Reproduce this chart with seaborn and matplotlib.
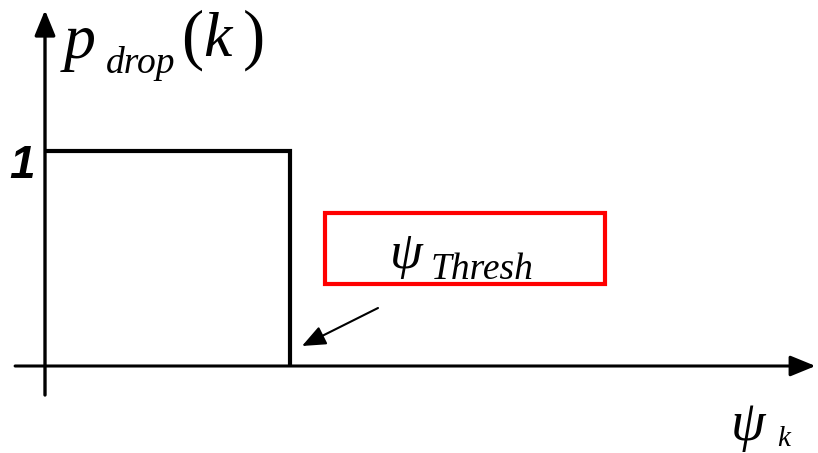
import matplotlib
matplotlib.use("Agg")
import matplotlib.pyplot as plt
import seaborn as sns
import pandas as pd
from matplotlib.patches import Rectangle, FancyArrowPatch

# Data: step drop-probability function
psi = [0.0, 1.0, 1.0]
p_drop = [1.0, 1.0, 0.0]
threshold = 1.0
tick_label = "1"

sns.set_theme(style="white")

fig = plt.figure(figsize=(8.18, 4.53), dpi=100)
ax = fig.add_axes([0, 0, 1, 1])
ax.set_xlim(-45 / 245, 773 / 245)
ax.set_ylim(-87 / 215, 366 / 215)
ax.axis("off")


def P(px, py):
    return ((px - 45) / 245, (366 - py) / 215)


df = pd.DataFrame({"psi": psi, "p": p_drop})
sns.lineplot(data=df, x="psi", y="p", sort=False, estimator=None,
             color="black", linewidth=3.0, ax=ax)
for l in ax.lines:
    l.set_solid_joinstyle("miter")
    l.set_solid_capstyle("butt")

# axes arrows
ax.add_patch(FancyArrowPatch((0, -0.135), (0, 1.655),
                             arrowstyle="-|>,head_length=1.1,head_width=0.45",
                             mutation_scale=14, color="black", linewidth=2.4,
                             shrinkA=0, shrinkB=0))
ax.add_patch(FancyArrowPatch((-0.122, 0), (3.145, 0),
                             arrowstyle="-|>,head_length=1.1,head_width=0.45",
                             mutation_scale=14, color="black", linewidth=2.2,
                             shrinkA=0, shrinkB=0))

# tick label "1"
ax.text(-0.04, 0.93, tick_label, ha="right", va="center",
        fontsize=33, fontweight="bold", fontstyle="italic",
        family="Liberation Sans", color="black")

serif = dict(family="Liberation Serif", color="black", va="baseline", ha="left")

# y label  p_drop(k)
ax.text(*P(64, 58), "p", fontsize=46, style="italic", **serif)
ax.text(*P(106, 73), "drop", fontsize=27, style="italic", **serif)
ax.text(*P(181, 57), "(", fontsize=48, **serif)
ax.text(*P(203, 56), "k", fontsize=46, style="italic", **serif)
ax.text(*P(243, 57), ")", fontsize=48, **serif)

# threshold box
ax.add_patch(Rectangle(P(325, 284), 280 / 245, 71 / 215, fill=False,
                       edgecolor="#ff0000", linewidth=3.0))
ax.text(*P(390, 268), "\u03c8", fontsize=38, style="italic", **serif)
ax.text(*P(431, 279), "Thresh", fontsize=27, style="italic", **serif)

# pointer arrow
ax.add_patch(FancyArrowPatch(P(378, 308), (threshold + 0.049, 0.093),
                             arrowstyle="-|>,head_length=1.2,head_width=0.5",
                             mutation_scale=12, color="black", linewidth=1.5,
                             shrinkA=0, shrinkB=0))

# x label  psi_k
ax.text(*P(731, 440), "\u03c8", fontsize=40, style="italic", **serif)
ax.text(*P(777, 446), "k", fontsize=21, style="italic", **serif)

fig.savefig("out.png", dpi=100)
